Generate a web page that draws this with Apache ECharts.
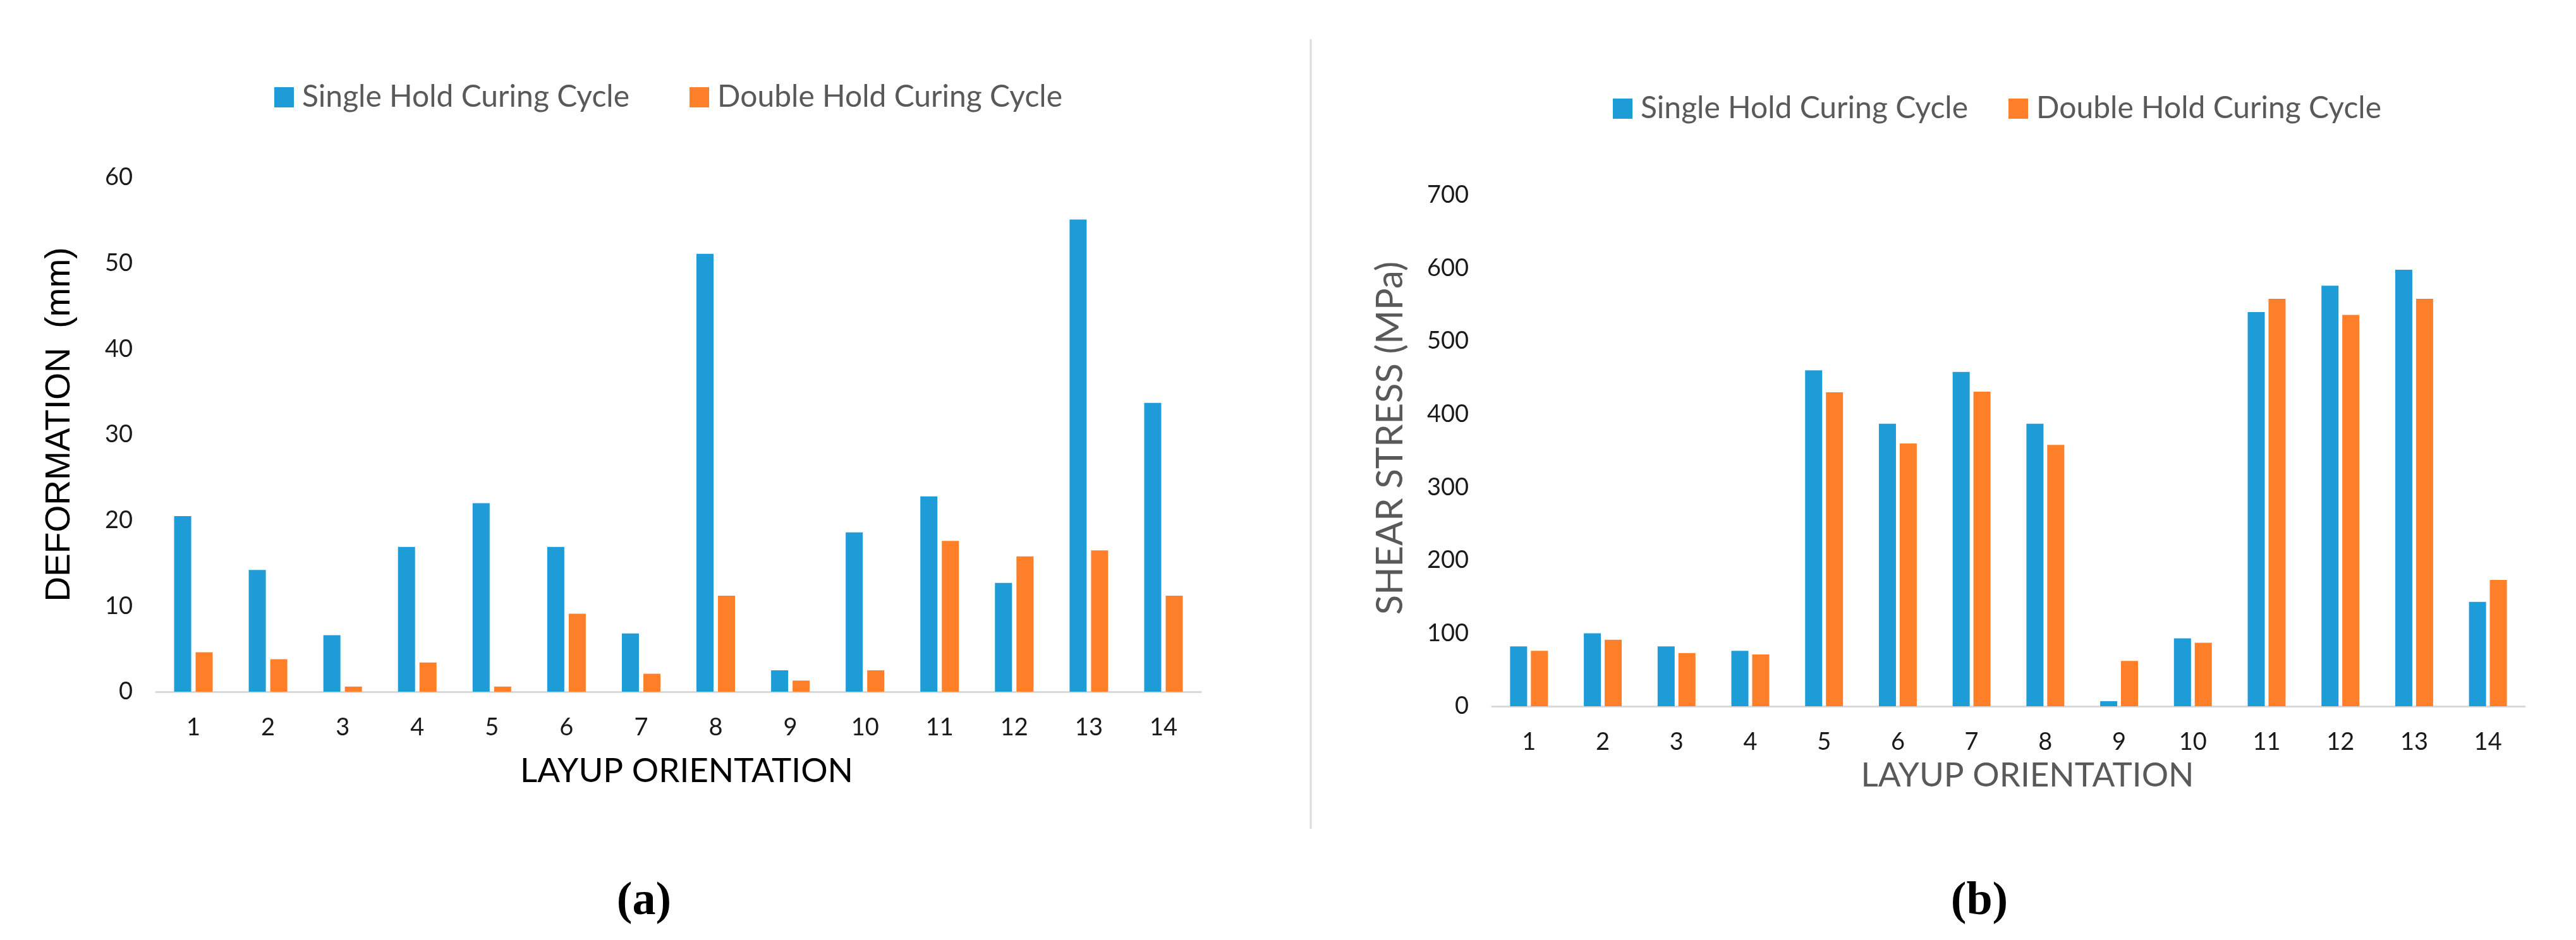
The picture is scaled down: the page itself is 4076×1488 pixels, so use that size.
<!DOCTYPE html>
<html>
<head>
<meta charset="utf-8">
<script src="https://cdn.jsdelivr.net/npm/echarts@6/dist/echarts.min.js"></script>
<style>
html,body{margin:0;padding:0;background:#fff;}
#chart{width:4076px;height:1488px;}
</style>
</head>
<body>
<div id="chart"></div>
<script>
const categories = ['1','2','3','4','5','6','7','8','9','10','11','12','13','14'];
const seriesNames = ['Single Hold Curing Cycle','Double Hold Curing Cycle'];
const deformSingle = [20.5, 14.2, 6.6, 16.9, 22.0, 16.9, 6.8, 51.1, 2.5, 18.6, 22.8, 12.7, 55.1, 33.7];
const deformDouble = [4.6, 3.8, 0.6, 3.4, 0.6, 9.1, 2.1, 11.2, 1.3, 2.5, 17.6, 15.8, 16.5, 11.2];
const stressSingle = [82, 100, 82, 76, 460, 387, 458, 387, 7, 93, 540, 576, 598, 143];
const stressDouble = [76, 91, 73, 71, 430, 360, 431, 358, 62, 87, 558, 536, 558, 173];
const deformTicks = {min: 0, max: 60, interval: 10};
const stressTicks = {min: 0, max: 700, interval: 100};

const BLUE = '#1e9cd8';
const ORANGE = '#fe7f2a';
const LATO = 'Lato, "Open Sans", sans-serif';

const chart = echarts.init(document.getElementById('chart'), null, {renderer: 'canvas'});

function xAxisCfg(gridIndex, nameColor, nameGap, shift) {
  return {
    type: 'category', gridIndex: gridIndex, data: categories,
    axisLine: {show: true, lineStyle: {color: '#d9d9d9', width: 3}},
    axisTick: {show: false},
    axisLabel: {color: '#1a1a1a', fontFamily: LATO, fontSize: 38, margin: 38},
    name: 'LAYUP ORIENTATION', nameLocation: 'middle', nameGap: nameGap,
    nameTextStyle: {color: nameColor, fontFamily: LATO, fontSize: 53, padding: [0, 0, 0, shift]}
  };
}
function yAxisCfg(gridIndex, ticks, name, nameStyle, nameGap) {
  return {
    type: 'value', gridIndex: gridIndex, min: ticks.min, max: ticks.max, interval: ticks.interval,
    axisLine: {show: false}, axisTick: {show: false}, splitLine: {show: false},
    axisLabel: {color: '#1a1a1a', fontFamily: LATO, fontSize: 38, margin: 37},
    name: name, nameLocation: 'middle', nameGap: nameGap, nameRotate: 90,
    nameTextStyle: nameStyle
  };
}
function legendCfg(left, top, gap) {
  return {
    left: left, top: top, icon: 'rect', itemWidth: 31, itemHeight: 32, itemGap: gap,
    data: seriesNames,
    textStyle: {color: '#595959', fontFamily: LATO, fontSize: 48, padding: [0, 0, 0, 8]}
  };
}

const option = {
  backgroundColor: '#ffffff',
  animation: false,
  grid: [
    {left: 247, right: 2176, top: 281, bottom: 393},
    {left: 2361, right: 81, top: 309, bottom: 370}
  ],
  legend: [legendCfg(429, 125, 95), legendCfg(2547, 143, 64)],
  xAxis: [xAxisCfg(0, '#000000', 99, 26), xAxisCfg(1, '#595959', 83, 60)],
  yAxis: [
    yAxisCfg(0, deformTicks, 'DEFORMATION  (mm)', {color: '#000000', fontFamily: '"Liberation Sans", Arial, sans-serif', fontSize: 55, padding: [0, 0, 0, 32]}, 125),
    yAxisCfg(1, stressTicks, 'SHEAR STRESS (MPa)', {color: '#595959', fontFamily: LATO, fontSize: 58, padding: [0, 0, 0, 40]}, 132)
  ],
  series: [
    {name: seriesNames[0], type: 'bar', xAxisIndex: 0, yAxisIndex: 0, data: deformSingle, barWidth: 27, barGap: '26%', itemStyle: {color: BLUE}},
    {name: seriesNames[1], type: 'bar', xAxisIndex: 0, yAxisIndex: 0, data: deformDouble, barWidth: 27, barGap: '26%', itemStyle: {color: ORANGE}},
    {name: seriesNames[0], type: 'bar', xAxisIndex: 1, yAxisIndex: 1, data: stressSingle, barWidth: 27, barGap: '22%', itemStyle: {color: BLUE}},
    {name: seriesNames[1], type: 'bar', xAxisIndex: 1, yAxisIndex: 1, data: stressDouble, barWidth: 27, barGap: '22%', itemStyle: {color: ORANGE}}
  ],
  graphic: [
    {type: 'line', shape: {x1: 2074, y1: 62, x2: 2074, y2: 1312}, style: {stroke: '#dcdcdc', lineWidth: 3}},
    {type: 'text', x: 1019, y: 1428, style: {text: '(a)', font: 'bold 74px "Liberation Serif", "Times New Roman", serif', fill: '#000', align: 'center', verticalAlign: 'middle'}},
    {type: 'text', x: 3132, y: 1428, style: {text: '(b)', font: 'bold 74px "Liberation Serif", "Times New Roman", serif', fill: '#000', align: 'center', verticalAlign: 'middle'}}
  ]
};
chart.setOption(option);
</script>
</body>
</html>
